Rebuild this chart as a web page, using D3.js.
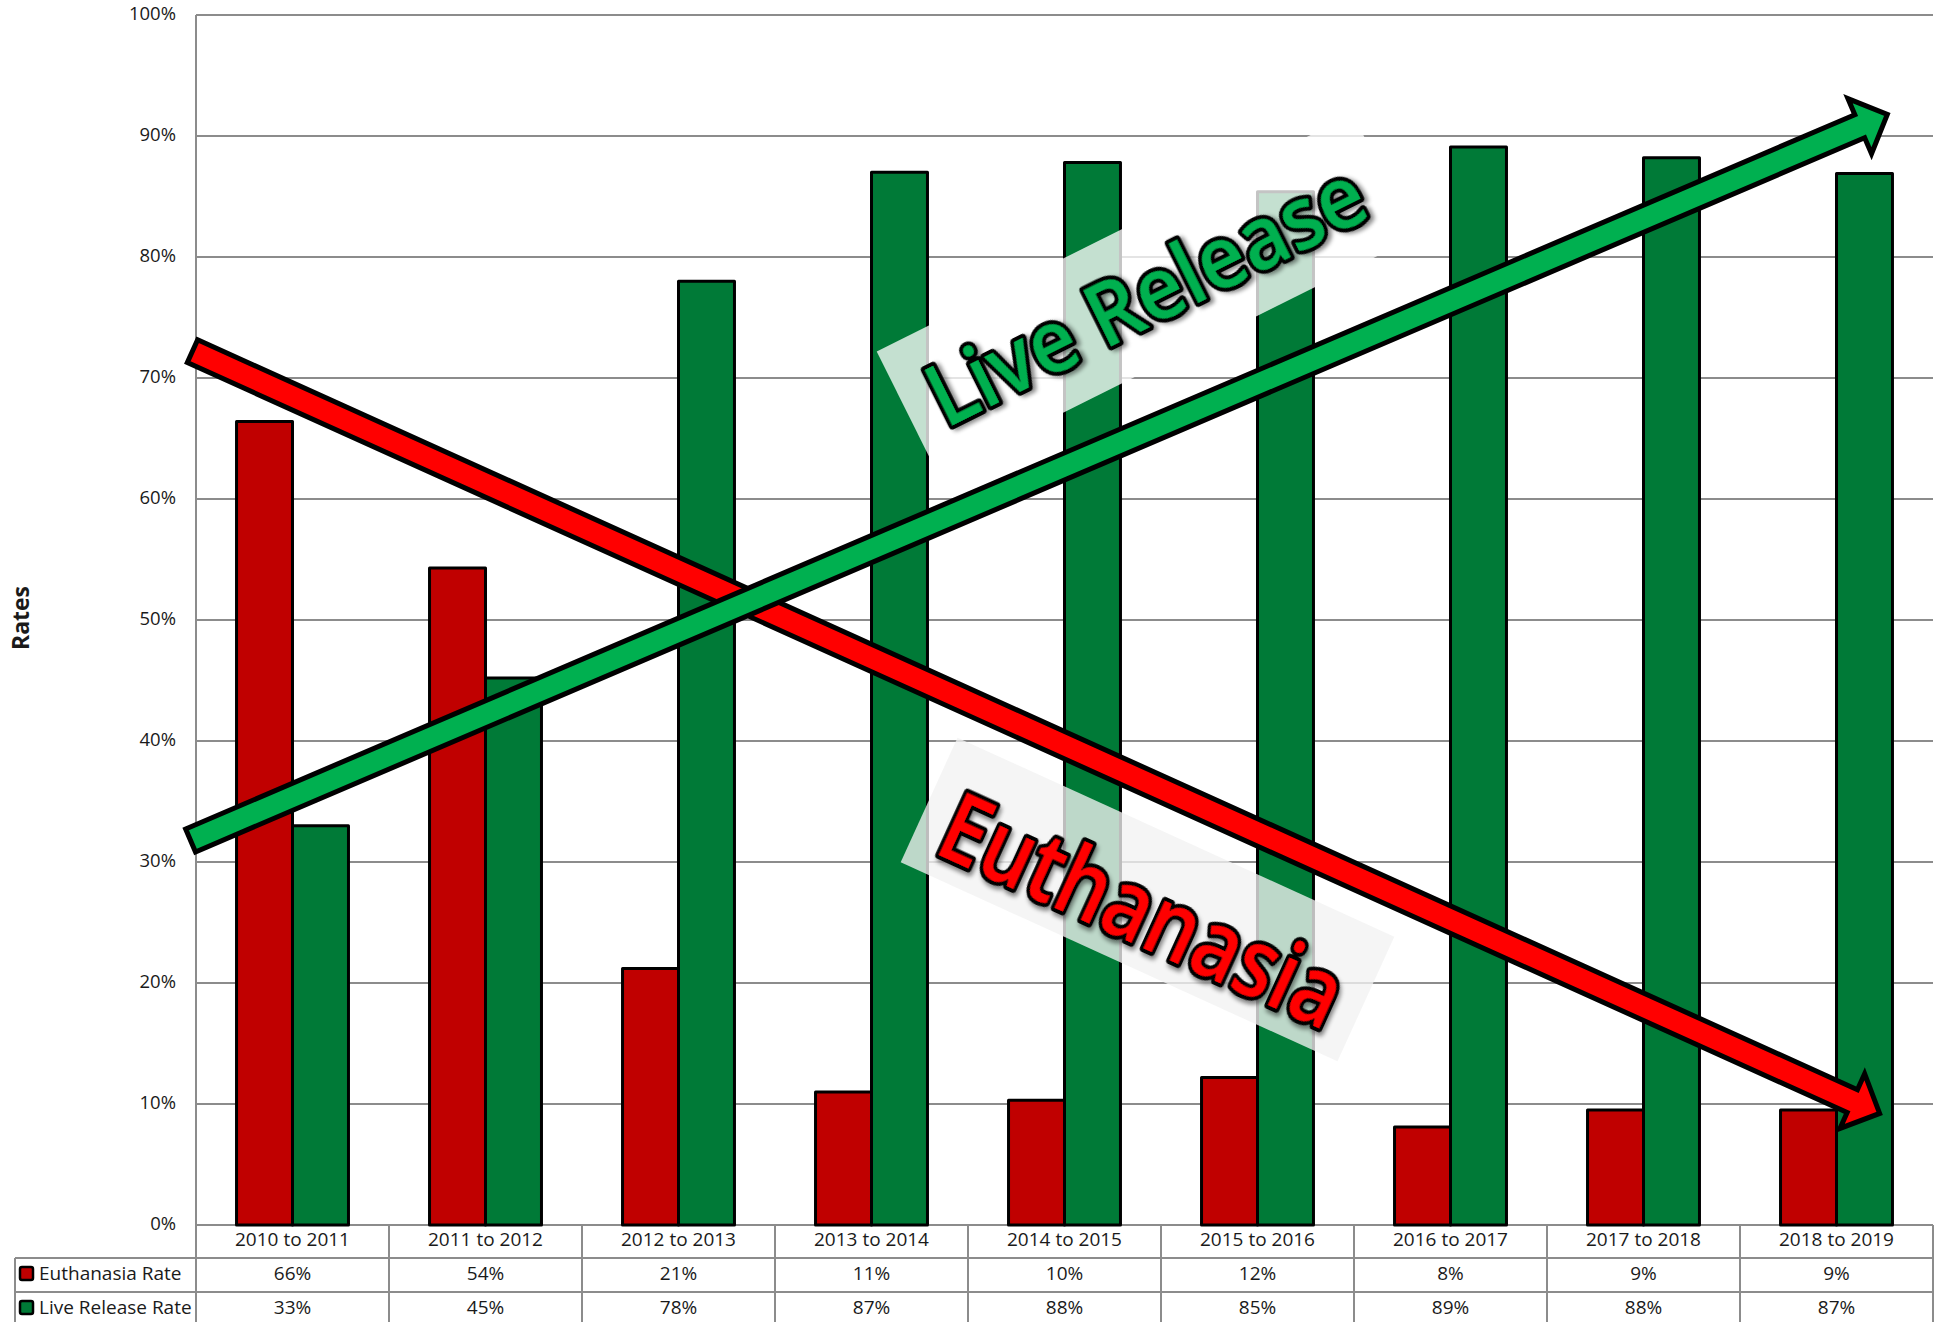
<!DOCTYPE html>
<html><head><meta charset="utf-8">
<script src="https://cdn.jsdelivr.net/npm/d3@7/dist/d3.min.js"></script>
<style>
body{margin:0;background:#fff;}
svg{display:block;}
text{font-family:'Open Sans',sans-serif;fill:#1a1a1a;}
</style>
</head><body>
<svg id="chart" width="1942" height="1322"></svg>
<script>
// ---- data ----
const categories = ["2010 to 2011","2011 to 2012","2012 to 2013","2013 to 2014","2014 to 2015","2015 to 2016","2016 to 2017","2017 to 2018","2018 to 2019"];
const seriesNames = ["Euthanasia Rate","Live Release Rate"];
const euthanasiaRate = [66.4, 54.3, 21.2, 11.0, 10.3, 12.2, 8.1, 9.5, 9.5];
const liveReleaseRate = [33.0, 45.2, 78.0, 87.0, 87.8, 85.4, 89.1, 88.2, 86.9];
const euthanasiaLabels = ["66%","54%","21%","11%","10%","12%","8%","9%","9%"];
const liveReleaseLabels = ["33%","45%","78%","87%","88%","85%","89%","88%","87%"];
const yTicks = [0,10,20,30,40,50,60,70,80,90,100];
const yTickLabels = ["0%","10%","20%","30%","40%","50%","60%","70%","80%","90%","100%"];
const yAxisTitle = "Rates";
// trend arrows: [category position, rate]
const euthanasiaArrow = [[-0.03, 72.3], [8.74, 9.1]];
const liveReleaseArrow = [[-0.04, 31.7], [8.78, 91.9]];
// annotation labels: [category position, rate]
const liveReleaseLabelPos = [4.92, 76.9];
const euthanasiaLabelPos = [4.93, 26.9];
const liveReleaseText = "Live Release";
const euthanasiaText = "Euthanasia";

// ---- layout ----
const W = 1942, H = 1322;
const plotLeft = 196, plotRight = 1933, plotTop = 15, plotBottom = 1225;
const rowH = [1225, 1258, 1292, 1326];
const colors = {eu:"#c00000", lr:"#007a37", euArrow:"#ff0000", lrArrow:"#00b050", grid:"#8c8c8c"};

const svg = d3.select("#chart");
const y = d3.scaleLinear().domain([0,100]).range([plotBottom, plotTop]);
const x = d3.scaleBand().domain(categories).range([plotLeft, plotRight]).paddingInner(0.42).paddingOuter(0.21);
const xs = d3.scaleBand().domain(seriesNames).range([0, x.bandwidth()]);
const xPos = d3.scaleLinear().domain([0, categories.length]).range([plotLeft, plotRight]);

const defs = svg.append("defs");
const f = defs.append("filter").attr("id","shadow").attr("x","-20%").attr("y","-20%").attr("width","140%").attr("height","140%");
f.append("feDropShadow").attr("dx",3).attr("dy",3).attr("stdDeviation",2).attr("flood-color","#000").attr("flood-opacity",0.45);

// gridlines
svg.append("g").selectAll("line").data(yTicks).join("line")
  .attr("x1", plotLeft).attr("x2", plotRight)
  .attr("y1", d=>y(d)).attr("y2", d=>y(d))
  .attr("stroke", colors.grid).attr("stroke-width", 2);

// y axis line
svg.append("line").attr("x1",plotLeft).attr("x2",plotLeft).attr("y1",plotTop).attr("y2",H)
  .attr("stroke",colors.grid).attr("stroke-width",2);

// y tick labels
svg.append("g").selectAll("text").data(yTicks).join("text")
  .attr("x", 176).attr("y", d=>y(d)+5)
  .attr("text-anchor","end").attr("font-size",18.5)
  .text((d,i)=>yTickLabels[i]);

// y axis title
svg.append("text").attr("transform","translate(29,618) rotate(-90)")
  .attr("text-anchor","middle").attr("font-size",23).attr("font-weight","bold").text(yAxisTitle);

// bars
const barData = [];
categories.forEach((c,i)=>{
  barData.push({c, s:seriesNames[0], v:euthanasiaRate[i], col:colors.eu});
  barData.push({c, s:seriesNames[1], v:liveReleaseRate[i], col:colors.lr});
});
svg.append("g").selectAll("rect").data(barData).join("rect")
  .attr("x", d=>x(d.c)+xs(d.s)).attr("width", xs.bandwidth())
  .attr("y", d=>y(d.v)).attr("height", d=>y(0)-y(d.v))
  .attr("fill", d=>d.col).attr("stroke","#000").attr("stroke-width",3).attr("stroke-linejoin","round");

// table
const tg = svg.append("g");
[rowH[1], rowH[2]].forEach(yy=>{
  tg.append("line").attr("x1",15).attr("x2",plotRight).attr("y1",yy).attr("y2",yy)
    .attr("stroke",colors.grid).attr("stroke-width",2);
});
d3.range(1, categories.length+1).forEach(i=>{
  tg.append("line").attr("x1",xPos(i)).attr("x2",xPos(i)).attr("y1",rowH[0]).attr("y2",H)
    .attr("stroke",colors.grid).attr("stroke-width",2);
});
tg.append("line").attr("x1",15).attr("x2",15).attr("y1",rowH[1]).attr("y2",H)
  .attr("stroke",colors.grid).attr("stroke-width",2);
tg.selectAll("text.cat").data(categories).join("text").attr("class","cat")
  .attr("x",(d,i)=>xPos(i+0.5)).attr("y",(rowH[0]+rowH[1])/2+4.5)
  .attr("text-anchor","middle").attr("font-size",19).text(d=>d);
const rows = [
  {name:seriesNames[0], labels:euthanasiaLabels, col:colors.eu},
  {name:seriesNames[1], labels:liveReleaseLabels, col:colors.lr}
];
rows.forEach((r,ri)=>{
  const cy = (rowH[ri+1]+rowH[ri+2])/2;
  tg.append("rect").attr("x",20).attr("y",cy-8).attr("width",13).attr("height",13).attr("rx",2)
    .attr("fill",r.col).attr("stroke","#000").attr("stroke-width",2.5);
  tg.append("text").attr("x",39).attr("y",cy+4.5).attr("font-size",19).text(r.name);
  tg.selectAll(null).data(r.labels).join("text")
    .attr("x",(d,i)=>xPos(i+0.5)).attr("y",cy+4.5)
    .attr("text-anchor","middle").attr("font-size",19).text(d=>d);
});

// label boxes
function labelBox(pos, angle, w, h, fill, opacity, txt, txtColor, fs, tl, dy){
  const g = svg.append("g").attr("transform",`translate(${xPos(pos[0])},${y(pos[1])}) rotate(${angle})`);
  g.append("rect").attr("x",-w/2).attr("y",-h/2).attr("width",w).attr("height",h)
    .attr("fill",fill).attr("fill-opacity",opacity);
  g.append("text").attr("x",0).attr("y",dy).attr("text-anchor","middle")
    .attr("font-size",fs).attr("font-weight",600).attr("textLength",tl).attr("lengthAdjust","spacingAndGlyphs")
    .style("fill",txtColor).attr("stroke","#000").attr("stroke-width",8).attr("stroke-linejoin","round")
    .attr("paint-order","stroke").attr("filter","url(#shadow)")
    .text(txt);
}
labelBox(liveReleaseLabelPos, -26.5, 532, 138, "#ffffff", 0.77, liveReleaseText, colors.lrArrow, 86, 478, 31);
labelBox(euthanasiaLabelPos, 24.5, 480, 137, "#f2f2f2", 0.78, euthanasiaText, colors.euArrow, 96, 432, 46);

// arrows
function arrow(pts, color){
  const p0 = [xPos(pts[0][0]), y(pts[0][1])], p1 = [xPos(pts[1][0]), y(pts[1][1])];
  const dx = p1[0]-p0[0], dy = p1[1]-p0[1];
  const ang = Math.atan2(dy,dx)*180/Math.PI;
  const L = Math.hypot(dx,dy) - 6;
  const hs = 12.5, hh = 30, hl = 30;
  const poly = [[0,-hs],[L-hl,-hs],[L-hl,-hh],[L,0],[L-hl,hh],[L-hl,hs],[0,hs]];
  svg.append("g").attr("transform",`translate(${p0[0]},${p0[1]}) rotate(${ang}) translate(2.5,0)`)
    .append("path").attr("d", d3.line()(poly)+"Z")
    .attr("fill",color).attr("stroke","#000").attr("stroke-width",5).attr("stroke-linejoin","miter").attr("stroke-miterlimit",10);
}
arrow(euthanasiaArrow, colors.euArrow);
arrow(liveReleaseArrow, colors.lrArrow);
</script>
</body></html>
